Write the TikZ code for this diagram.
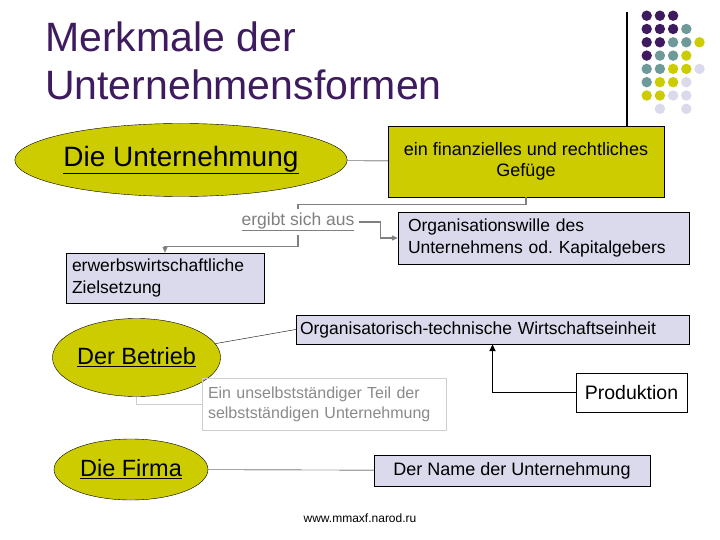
\documentclass[tikz,border=0pt]{standalone}
\usepackage{fontspec}
\setmainfont{Liberation Sans}
\usetikzlibrary{arrows.meta, positioning, shapes.geometric}

\definecolor{lila}{RGB}{62,26,94}
\definecolor{petrol}{RGB}{110,154,154}
\definecolor{gelb}{RGB}{204,204,0}
\definecolor{flieder}{RGB}{218,218,236}
\definecolor{linie}{RGB}{128,128,128}
\definecolor{hell}{RGB}{206,206,206}
\definecolor{textgrau}{RGB}{138,138,138}

\begin{document}
\begin{tikzpicture}[x=1pt, y=-1pt,
        oval/.style={ellipse, draw, fill=gelb, inner sep=0pt},
        kasten/.style={rectangle, draw, fill=flieder, inner sep=0pt},
        links/.style={align=left, inner ysep=0pt},
        grauweg/.style={draw=linie, line width=1.2pt},
        pfeil/.style={grauweg, -{Triangle[length=6pt, width=5pt]}},
        >=Stealth]

    \path[use as bounding box, fill=white] (0,0) rectangle (720,540);

    \node[text=lila, anchor=base west, inner sep=0pt, font=\fontsize{41}{48}\selectfont] (titel1) at (45,52) {Merkmale der};
    \node[text=lila, anchor=base west, inner sep=0pt, font=\fontsize{41}{48}\selectfont] (titel2) at (45,100) {Unternehmensformen};

    \foreach \z/\reihe in {0/{lila,lila,lila}, 1/{lila,lila,lila,petrol}, 2/{lila,lila,petrol,petrol,gelb},
            3/{lila,petrol,petrol,gelb}, 4/{petrol,petrol,gelb,gelb,flieder}, 5/{petrol,gelb,gelb,flieder},
            6/{gelb,gelb,flieder,flieder}, 7/{none,flieder,none,flieder}}
        \foreach \f [count=\s from 0] in \reihe
            \fill[fill=\f] (646.7+13.2*\s, 15.7+13.3*\z) circle (5.2);

    \node[oval, minimum width=278pt, minimum height=73pt, font=\fontsize{28}{32}\selectfont] (unternehmung) at (181,160) {\underline{Die Unternehmung}};
    \node[kasten, fill=gelb, minimum width=276pt, minimum height=71pt, align=center, font=\fontsize{18}{21}\selectfont] (gefuege) at (526,161.5) {ein finanzielles und rechtliches\\Gefüge};
    \node[text=linie, inner sep=4pt, font=\fontsize{17.5}{20}\selectfont] (ergibt) at (298,222) {\underline{ergibt sich aus}};
    \node[kasten, links, minimum height=52pt, text width=271pt, inner xsep=10pt, font=\fontsize{17.5}{22}\selectfont] (wille) at (543.5,238) {Organisationswille des\\Unternehmens od.\ Kapitalgebers};
    \node[kasten, links, minimum height=50pt, text width=186pt, inner xsep=6pt, font=\fontsize{17.5}{22}\selectfont] (ziel) at (165,278) {erwerbswirtschaftliche\\Zielsetzung};
    \node[kasten, links, minimum height=29pt, text width=385pt, inner xsep=4pt, font=\fontsize{17.5}{20}\selectfont] (einheit) at (492.5,329.5) {Organisatorisch-technische Wirtschaftseinheit};
    \node[oval, minimum width=167pt, minimum height=78pt, font=\fontsize{23.5}{27}\selectfont] (betrieb) at (136.5,357.5) {\underline{Der Betrieb}};
    \node[draw=hell, text=textgrau, links, minimum height=52pt, text width=232pt, inner xsep=6pt, font=\fontsize{16}{20}\selectfont] (teil) at (324,404) {Ein unselbstständiger Teil der\\selbstständigen Unternehmung};
    \node[draw, minimum width=111pt, minimum height=39pt, font=\fontsize{19.5}{22}\selectfont] (produktion) at (631.5,392.5) {Produktion};
    \node[oval, minimum width=154pt, minimum height=61pt, font=\fontsize{23.5}{27}\selectfont] (firma) at (131,469.5) {\underline{Die Firma}};
    \node[kasten, minimum width=276pt, minimum height=31pt, font=\fontsize{18}{21}\selectfont] (name) at (512,470.5) {Der Name der Unternehmung};
    \node[font=\fontsize{12}{14}\selectfont] (quelle) at (360,518) {www.mmaxf.narod.ru};

    \coordinate (leiste) at (627,12);
    \draw[line width=1.2pt] (leiste) -- (leiste |- gefuege.north);
    \draw (unternehmung) -- (gefuege);
    \draw[grauweg] (gefuege.south) -- ++(0,7) -| (ergibt.north);
    \draw[pfeil] (ergibt.south) -- ++(0,11) -| (ziel.north);
    \draw[pfeil] (ergibt.east) -- ++(22,0) |- (wille.west);
    \draw (betrieb) -- (einheit.west);
    \draw[hell, line width=1pt] (betrieb.south) |- (teil.west);
    \draw[line width=1.6pt, -{Triangle[length=7pt, width=6pt]}] (produktion.west) -| (einheit.south);
    \draw (firma) -- (name);

\end{tikzpicture}
\end{document}
